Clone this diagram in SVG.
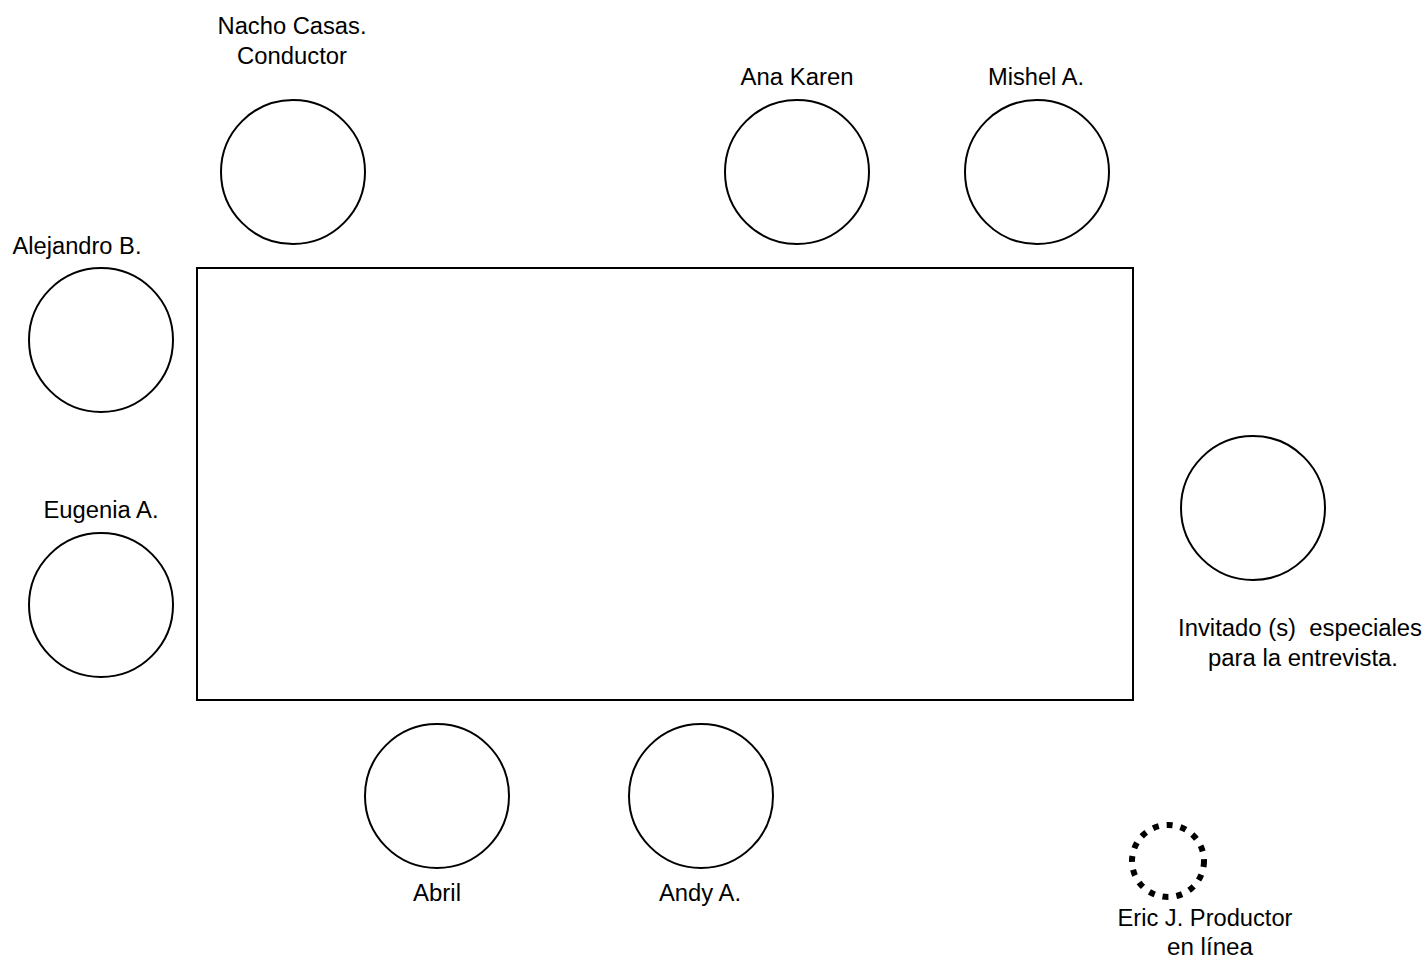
<svg xmlns="http://www.w3.org/2000/svg" width="1428" height="958" viewBox="0 0 1428 958">
<style>
.seat{fill:#fff;stroke:#000;stroke-width:2}
.lbl{font-family:"Liberation Sans",Arial,sans-serif;font-size:23px;fill:#000;text-anchor:middle}
</style>
<rect width="1428" height="958" fill="#fff"/>
<g id="table"><rect x="197" y="268" width="936" height="432" fill="#fff" stroke="#000" stroke-width="2"/></g>
<g id="nacho"><circle class="seat" cx="293" cy="172" r="72"/><text class="lbl" x="292" y="34" textLength="149" lengthAdjust="spacingAndGlyphs">Nacho Casas.</text><text class="lbl" x="292" y="64" textLength="110" lengthAdjust="spacingAndGlyphs">Conductor</text></g>
<g id="ana"><circle class="seat" cx="797" cy="172" r="72"/><text class="lbl" x="797" y="85" textLength="113" lengthAdjust="spacingAndGlyphs">Ana Karen</text></g>
<g id="mishel"><circle class="seat" cx="1037" cy="172" r="72"/><text class="lbl" x="1036" y="85" textLength="96" lengthAdjust="spacingAndGlyphs">Mishel A.</text></g>
<g id="alejandro"><circle class="seat" cx="101" cy="340" r="72"/><text class="lbl" x="77" y="254" textLength="129" lengthAdjust="spacingAndGlyphs">Alejandro B.</text></g>
<g id="eugenia"><circle class="seat" cx="101" cy="605" r="72"/><text class="lbl" x="101" y="518" textLength="115" lengthAdjust="spacingAndGlyphs">Eugenia A.</text></g>
<g id="invitado"><circle class="seat" cx="1253" cy="508" r="72"/><text class="lbl" x="1300" y="636" textLength="244" lengthAdjust="spacingAndGlyphs" xml:space="preserve">Invitado (s)  especiales</text><text class="lbl" x="1303" y="666" textLength="190" lengthAdjust="spacingAndGlyphs">para la entrevista.</text></g>
<g id="abril"><circle class="seat" cx="437" cy="796" r="72"/><text class="lbl" x="437" y="901" textLength="48" lengthAdjust="spacingAndGlyphs">Abril</text></g>
<g id="andy"><circle class="seat" cx="701" cy="796" r="72"/><text class="lbl" x="700" y="901" textLength="82" lengthAdjust="spacingAndGlyphs">Andy A.</text></g>
<g id="eric"><circle cx="1168" cy="861" r="36" fill="none" stroke="#000" stroke-width="6" stroke-dasharray="6 8"/><text class="lbl" x="1205" y="926" textLength="175" lengthAdjust="spacingAndGlyphs">Eric J. Productor</text><text class="lbl" x="1210" y="955" textLength="86" lengthAdjust="spacingAndGlyphs">en línea</text></g>
<g id="connectors"></g>
</svg>
